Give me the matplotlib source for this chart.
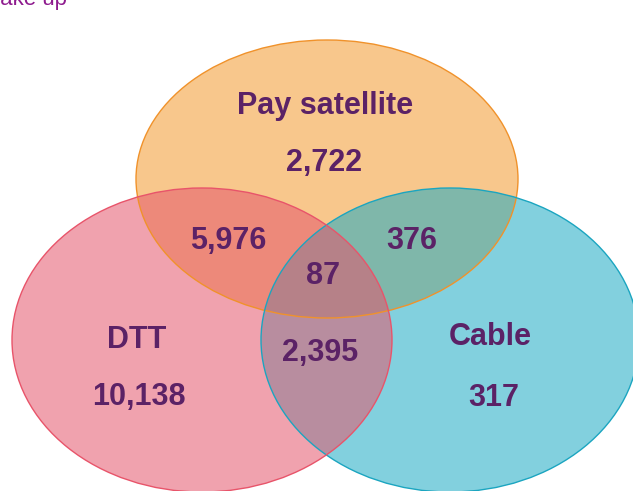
import matplotlib.pyplot as plt
from matplotlib.patches import Ellipse

# ===============================
# Data
# ===============================
sets = ["Pay satellite", "DTT", "Cable"]
only_counts = [2722, 10138, 317]
pair_labels = ["Pay satellite & DTT", "Pay satellite & Cable", "DTT & Cable"]
pair_counts = [5976, 376, 2395]
all_three = 87

# ===============================
# Style / layout (pixel coords, y down)
# ===============================
TXT = "#5B2266"
ell_fill = {"Pay satellite": "#F39A2E", "DTT": "#E5566C", "Cable": "#1CAAC4"}
ell_edge = {"Pay satellite": "#F0922B", "DTT": "#E8546A", "Cable": "#1BA5C0"}
ell_geom = {  # center x, center y, width, height
    "Pay satellite": (327, 179, 382, 278),
    "DTT": (202, 340, 380, 304),
    "Cable": (450, 340, 378, 304),
}
draw_order = ["Pay satellite", "Cable", "DTT"]

name_pos = {"Pay satellite": (325, 106), "DTT": (137, 340), "Cable": (490, 337)}
only_pos = {"Pay satellite": (324, 163), "DTT": (139, 397), "Cable": (494, 398)}
pair_pos = [(228, 241), (412, 241), (320, 353)]
center_pos = (323, 276)

fig = plt.figure(figsize=(6.33, 4.91), dpi=100)
ax = fig.add_axes([0, 0, 1, 1])
ax.set_xlim(0, 633)
ax.set_ylim(491, 0)
ax.axis("off")

for s in draw_order:
    cx, cy, w, h = ell_geom[s]
    ax.add_patch(Ellipse((cx, cy), w, h, facecolor=ell_fill[s], alpha=0.55,
                         edgecolor="none"))
for s in draw_order:
    cx, cy, w, h = ell_geom[s]
    ax.add_patch(Ellipse((cx, cy), w, h, facecolor="none",
                         edgecolor=ell_edge[s], linewidth=1.0))

font = dict(family="Liberation Sans", weight="bold", color=TXT,
            ha="center", va="center", fontsize=22)

for s, v in zip(sets, only_counts):
    ax.text(*name_pos[s], s, **font)
    ax.text(*only_pos[s], f"{v:,}", **font)

for pos, v in zip(pair_pos, pair_counts):
    ax.text(*pos, f"{v:,}", **font)

ax.text(*center_pos, f"{all_three:,}", **font)

# title, cut off at the top-left like the source slide
ax.text(67, 5, "Take up", family="Liberation Sans", fontsize=16,
        color="#8E1B8E", ha="right", va="baseline")

fig.savefig("out.png", dpi=100)
